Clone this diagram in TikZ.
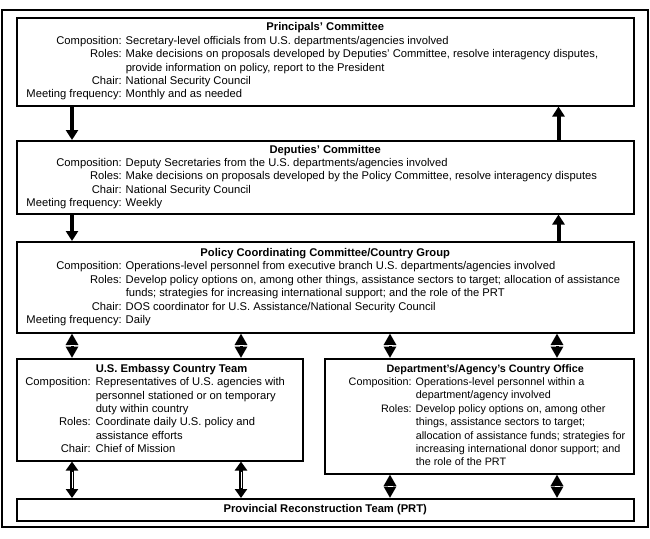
\documentclass[tikz,border=0pt]{standalone}
\usepackage{fontspec}
\setmainfont{Liberation Sans}
\usepackage{array}
\usetikzlibrary{arrows.meta,calc}
\newcolumntype{R}[1]{>{\raggedleft\arraybackslash}p{#1}}
\newcolumntype{P}[1]{>{\raggedright\arraybackslash}p{#1}}
\tikzset{
  box/.style={draw, line width=1.5pt, inner sep=0pt, anchor=north west,
    font=\fontsize{11.2}{13.4}\selectfont},
  lowbox/.style={box, font=\fontsize{10.8}{13.4}\selectfont},
  solidarrow/.style={line width=4pt, -{Triangle[width=12pt,length=10pt]}},
  dblarrow/.style={line width=4.5pt, {Triangle[width=12pt,length=9pt]}-{Triangle[width=12pt,length=9pt]}},
  diamarrow/.style={line width=3pt, {Triangle[width=12pt,length=11.5pt]}-{Triangle[width=12pt,length=11.5pt]}},
  whitemark/.style={white, line width=0.9pt}
}
\begin{document}
\begin{tikzpicture}[x=1pt,y=-1pt]
\useasboundingbox (0,0) rectangle (650,538);
\fill[white] (0,0) rectangle (650,538);
\draw[line width=2.6pt] (2,10) rectangle (648,527);

\node[box, minimum width=617pt, minimum height=88pt] (pc) at (16,17) {\makebox[617pt][l]{%
\begin{tabular}{@{}R{105pt}@{\hspace{4pt}}P{508pt}@{}}
\multicolumn{2}{@{}c@{}}{\bfseries Principals' Committee}\\
Composition: & Secretary-level officials from U.S. departments/agencies involved\\
Roles: & Make decisions on proposals developed by Deputies' Committee, resolve interagency disputes,\\
 & provide information on policy, report to the President\\
Chair: & National Security Council\\
Meeting frequency: & Monthly and as needed
\end{tabular}}};

\node[box, minimum width=617pt, minimum height=73pt] (dc) at (16,140) {\makebox[617pt][l]{%
\begin{tabular}{@{}R{105pt}@{\hspace{4pt}}P{508pt}@{}}
\multicolumn{2}{@{}c@{}}{\bfseries Deputies' Committee}\\
Composition: & Deputy Secretaries from the U.S. departments/agencies involved\\
Roles: & Make decisions on proposals developed by the Policy Committee, resolve interagency disputes\\
Chair: & National Security Council\\
Meeting frequency: & Weekly
\end{tabular}}};

\node[box, minimum width=617pt, minimum height=91pt] (pcc) at (16,241) {\makebox[617pt][l]{%
\begin{tabular}{@{}R{105pt}@{\hspace{4pt}}P{508pt}@{}}
\multicolumn{2}{@{}c@{}}{\bfseries Policy Coordinating Committee/Country Group}\\
Composition: & Operations-level personnel from executive branch U.S. departments/agencies involved\\
Roles: & Develop policy options on, among other things, assistance sectors to target; allocation of assistance\\
 & funds; strategies for increasing international support; and the role of the PRT\\
Chair: & DOS coordinator for U.S. Assistance/National Security Council\\
Meeting frequency: & Daily
\end{tabular}}};

\node[box, minimum width=286pt, minimum height=102pt] (emb) at (16,358) {\makebox[286pt][l]{%
\begin{tabular}{@{}R{74pt}@{\hspace{5pt}}P{230pt}@{}}
 & \bfseries U.S. Embassy Country Team\\
Composition: & Representatives of U.S. agencies with\\
 & personnel stationed or on temporary\\
 & duty within country\\
Roles: & Coordinate daily U.S. policy and\\
 & assistance efforts\\
Chair: & Chief of Mission
\end{tabular}}};

\node[lowbox, minimum width=309pt, minimum height=115pt] (dept) at (324,358) {\makebox[309pt][l]{%
\begin{tabular}{@{}R{87pt}@{\hspace{4pt}}P{230pt}@{}}
\multicolumn{2}{@{}c@{}}{\bfseries Department's/Agency's Country Office}\\
Composition: & Operations-level personnel within a\\
 & department/agency involved\\
Roles: & Develop policy options on, among other\\
 & things, assistance sectors to target;\\
 & allocation of assistance funds; strategies for\\
 & increasing international donor support; and\\
 & the role of the PRT
\end{tabular}}};

\node[box, minimum width=617pt, minimum height=22pt] (prt) at (16,498) {\bfseries Provincial Reconstruction Team (PRT)};

% Principals <-> Deputies
\draw[solidarrow] ([xshift=56pt]pc.south west) -- ([xshift=56pt]dc.north west);
\draw[solidarrow] ([xshift=-76pt]dc.north east) -- ([xshift=-76pt]pc.south east);
% Deputies <-> Policy
\draw[solidarrow] ([xshift=56pt]dc.south west) -- ([xshift=56pt]pcc.north west);
\draw[solidarrow] ([xshift=-76pt]pcc.north east) -- ([xshift=-76pt]dc.south east);

% Policy <-> lower boxes
\foreach \a/\b in {56pt/56pt, 225pt/225pt}{
  \draw[diamarrow] ([xshift=\a]pcc.south west) -- ([xshift=\b]emb.north west);
  \draw[whitemark] ($([xshift=\a]pcc.south west)!.5!([xshift=\b]emb.north west)$) ++(-2.5,0) -- ++(5,0);
}
\foreach \a/\b in {374pt/66pt, 541pt/233pt}{
  \draw[diamarrow] ([xshift=\a]pcc.south west) -- ([xshift=\b]dept.north west);
  \draw[whitemark] ($([xshift=\a]pcc.south west)!.5!([xshift=\b]dept.north west)$) ++(-2.5,0) -- ++(5,0);
}

% Lower boxes <-> PRT
\foreach \a in {56pt, 225pt}{
  \draw[dblarrow] ([xshift=\a]emb.south west) -- ([xshift=\a]prt.north west);
  \draw[whitemark, shorten <=10pt, shorten >=10pt] ([xshift=\a]emb.south west) -- ([xshift=\a]prt.north west);
}
\foreach \a/\b in {66pt/374pt, 233pt/541pt}{
  \draw[diamarrow] ([xshift=\a]dept.south west) -- ([xshift=\b]prt.north west);
  \draw[whitemark] ($([xshift=\a]dept.south west)!.5!([xshift=\b]prt.north west)$) ++(-2.5,0) -- ++(5,0);
}
\end{tikzpicture}
\end{document}
